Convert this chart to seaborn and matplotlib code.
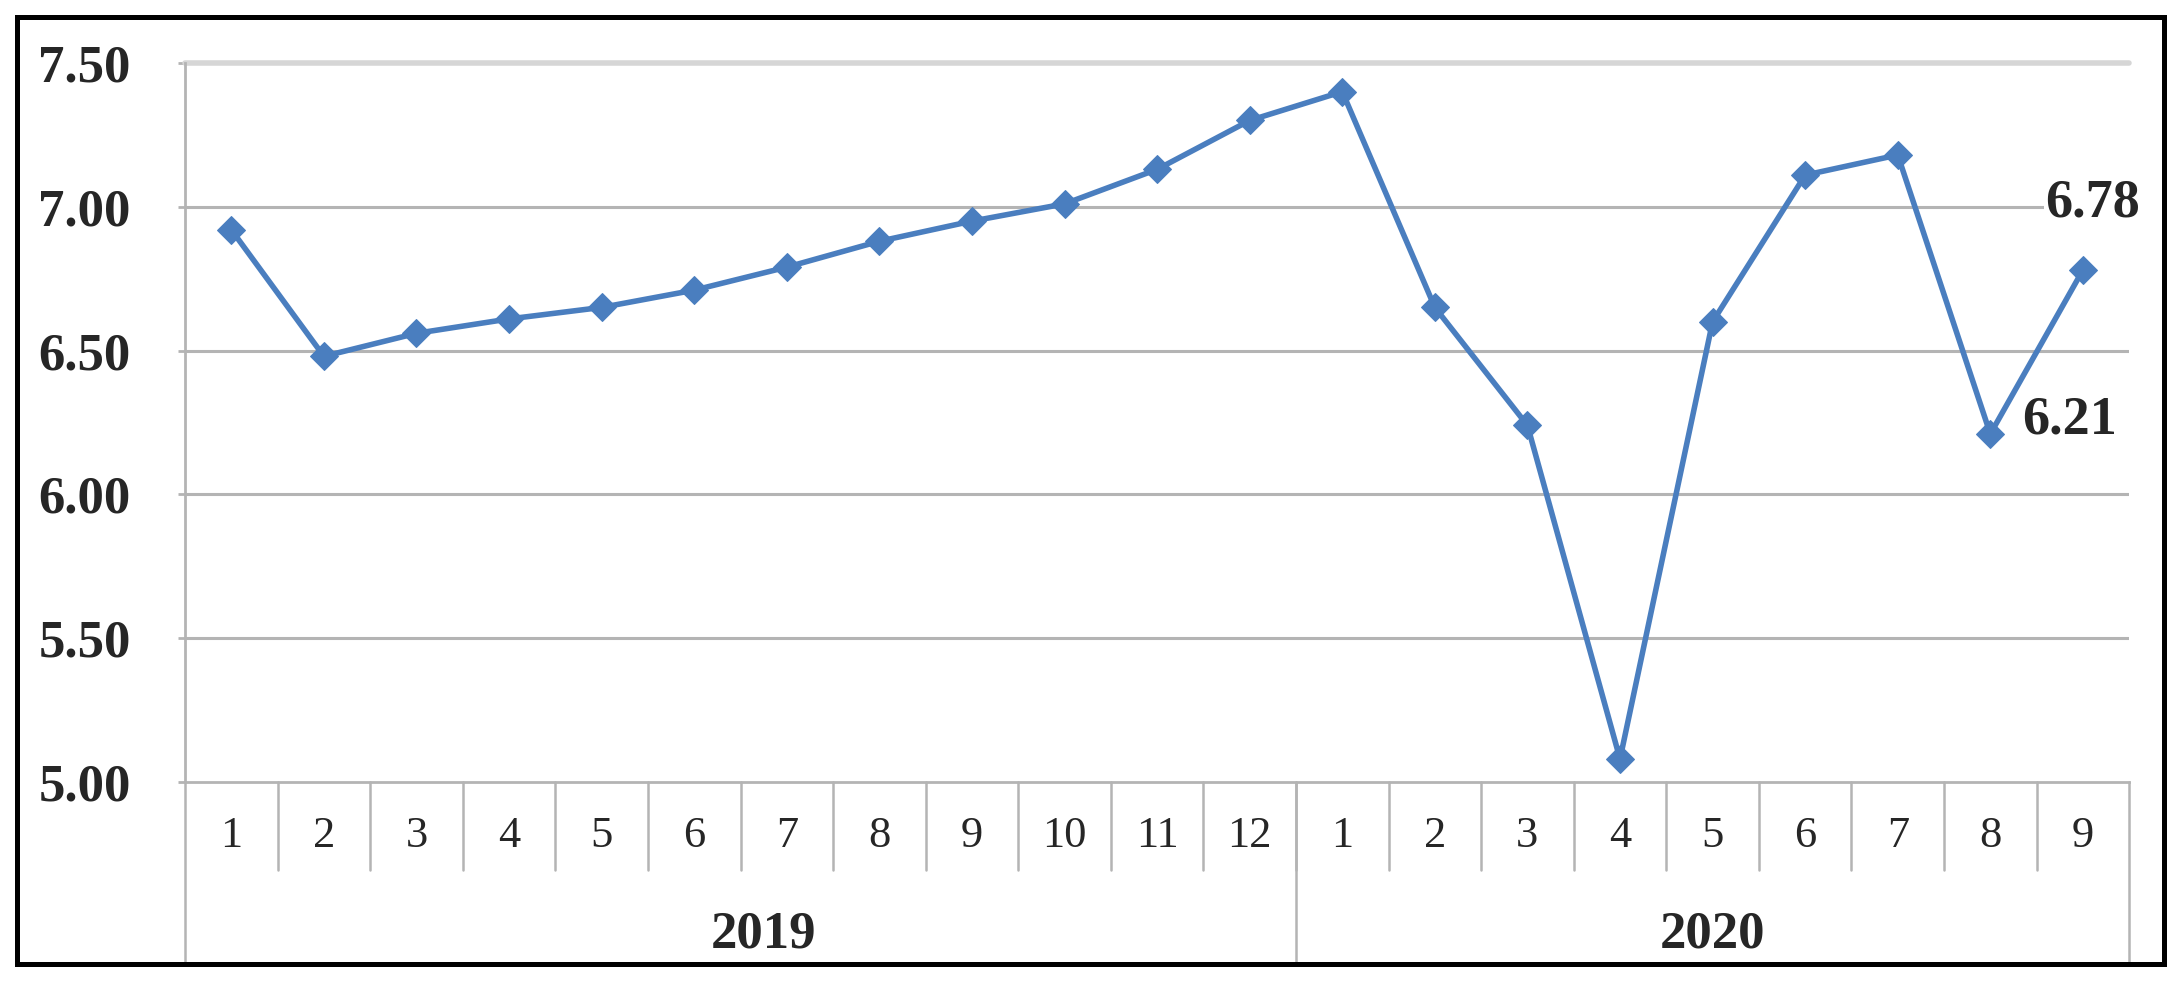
import numpy as np
import pandas as pd
import matplotlib
matplotlib.use('Agg')

import matplotlib.pyplot as plt
import matplotlib.transforms as mtransforms
from matplotlib.patches import Rectangle
import seaborn as sns

# chart data
months = ["1", "2", "3", "4", "5", "6", "7", "8", "9", "10", "11", "12",
          "1", "2", "3", "4", "5", "6", "7", "8", "9"]
years = ["2019", "2020"]
months_per_year = [12, 9]
values_2019 = [6.92, 6.48, 6.56, 6.61, 6.65, 6.71, 6.79, 6.88, 6.95, 7.01, 7.13, 7.30]
values_2020 = [7.40, 6.65, 6.24, 5.08, 6.60, 7.11, 7.18, 6.21, 6.78]
y_ticks = [5.00, 5.50, 6.00, 6.50, 7.00, 7.50]
label_points = [20, 19]
label_texts = ["6.78", "6.21"]

sns.set_theme(style="white")
plt.rcParams['font.family'] = ['Liberation Serif', 'DejaVu Serif']

df = pd.DataFrame({"pos": np.arange(len(months)), "value": values_2019 + values_2020})

grid_col = "#b4b4b4"
line_col = "#4a7ebf"

fig = plt.figure(figsize=(21.82, 9.85), dpi=100)
ax = fig.add_axes([0.0848, 0.2061, 0.891, 0.730])

sns.lineplot(data=df, x="pos", y="value", ax=ax, color=line_col, lw=4,
             marker="D", markersize=14, markeredgecolor=line_col, zorder=5)

ax.set_xlim(-0.5, len(months) - 0.5)
ax.set_ylim(y_ticks[0], y_ticks[-1])
ax.set_yticks(y_ticks)
ax.set_yticklabels([f"{v:.2f}" for v in y_ticks], fontsize=38, fontweight="bold")
ax.tick_params(axis="y", length=5, width=2, color=grid_col, pad=34, left=True)
ax.set_xticks([])
ax.set_xlabel("")
ax.set_ylabel("")

# horizontal gridlines, top one lighter like the original
for v in y_ticks[1:-1]:
    ax.axhline(v, color=grid_col, lw=2.2, zorder=1)
ax.axhline(y_ticks[-1], color="#d6d6d6", lw=4, zorder=1, clip_on=False)

for side in ["top", "right"]:
    ax.spines[side].set_visible(False)
for side in ["left", "bottom"]:
    ax.spines[side].set_color(grid_col)
    ax.spines[side].set_linewidth(2)

# category table under the axis
trans = mtransforms.blended_transform_factory(ax.transData, ax.transAxes)
row1 = -88 / 719
row2 = -182 / 719
bounds = np.arange(len(months) + 1) - 0.5
for b in bounds[1:-1]:
    ax.plot([b, b], [0, row1], transform=trans, color=grid_col, lw=1.8, clip_on=False)
year_bounds = np.concatenate([[0], np.cumsum(months_per_year)]) - 0.5
for b in year_bounds:
    ax.plot([b, b], [0, row2], transform=trans, color=grid_col, lw=1.8, clip_on=False)

for i, m in enumerate(months):
    ax.text(i, -0.075, m, transform=trans, ha="center", va="center", fontsize=32)
year_shift = [0.25, 0.0]
for k, yr in enumerate(years):
    cx = (year_bounds[k] + year_bounds[k + 1]) / 2 + year_shift[k]
    ax.text(cx, -0.212, yr, transform=trans, ha="center", va="center",
            fontsize=38, fontweight="bold")

# value labels
offsets = [(-27, 48), (23, 10)]
for idx, txt, off in zip(label_points, label_texts, offsets):
    ax.annotate(txt, xy=(idx, df["value"][idx]), xytext=off, textcoords="offset points",
                ha="left", va="center", fontsize=39, fontweight="bold",
                bbox=dict(fc="white", ec="none", pad=1), zorder=6)

# black frame round the whole chart
fig.patches.append(Rectangle((0.0078, 0.0213), 0.984, 0.9614, transform=fig.transFigure,
                             fill=False, ec="black", lw=3.6, zorder=10))

fig.savefig("out.png", dpi=100)
